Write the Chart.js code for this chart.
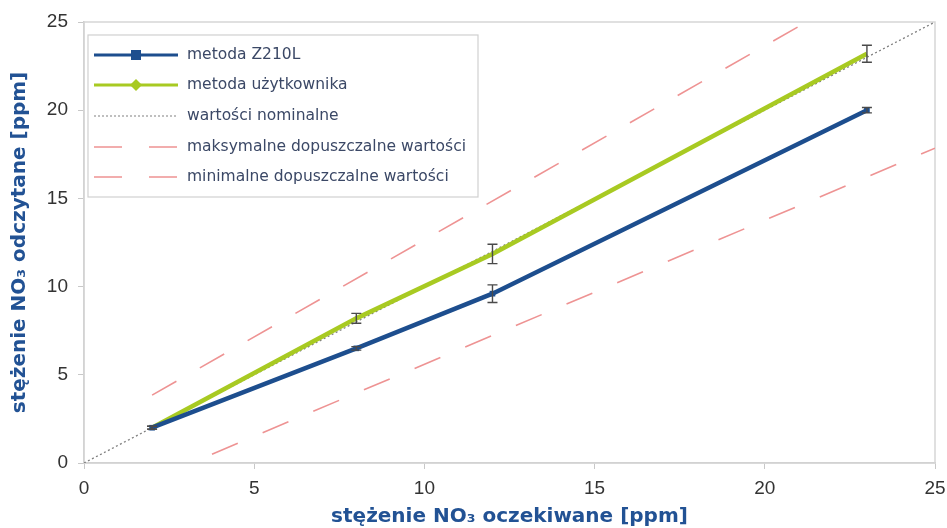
<!DOCTYPE html>
<html>
<head>
<meta charset="utf-8">
<script src="https://cdn.jsdelivr.net/npm/chart.js@4/dist/chart.umd.min.js"></script>
<style>
  body { margin: 0; background: #fff; }
  #wrap { width: 947px; height: 528px; position: relative; }
</style>
</head>
<body>
<div id="wrap"><canvas id="chart"></canvas></div>
<script>
// dane
var stezeniaOczekiwane = [2, 8, 12, 23];
var metodaZ210L = [2, 6.5, 9.6, 20];
var bledyZ210L = [0.08, 0.1, 0.5, 0.15];
var metodaUzytkownika = [2, 8.2, 11.85, 23.2];
var bledyUzytkownika = [0.08, 0.28, 0.55, 0.48];
var nominalneX = [0, 25];
var nominalneY = [0, 25];
var maxX = [2, 25];
var maxY = [3.85, 29.15];
var minX = [3.76, 25];
var minY = [0.5, 17.85];
var ticksOsi = [0, 5, 10, 15, 20, 25];

var legendaTeksty = ['metoda Z210L', 'metoda użytkownika', 'wartości nominalne',
  'maksymalne dopuszczalne wartości', 'minimalne dopuszczalne wartości'];

var niebieski = '#1d4e8e';
var zielony = '#a8ca22';
var czerwony = '#ee9393';
var szary = '#808080';
var tytulKolor = '#225294';

function punkty(xs, ys) {
  var out = [];
  for (var i = 0; i < xs.length; i++) out.push({x: xs[i], y: ys[i]});
  return out;
}

// ramka wokol obszaru wykresu
var ramka = {
  id: 'ramka',
  beforeDatasetsDraw: function(chart) {
    var a = chart.chartArea, ctx = chart.ctx;
    ctx.save();
    ctx.strokeStyle = '#d6d6d6';
    ctx.lineWidth = 1.5;
    ctx.strokeRect(a.left, a.top, a.right - a.left, a.bottom - a.top);
    ctx.restore();
  }
};

// slupki bledow
var slupkiBledow = {
  id: 'slupkiBledow',
  afterDatasetsDraw: function(chart) {
    var ctx = chart.ctx, sx = chart.scales.x, sy = chart.scales.y;
    var zestawy = [[metodaZ210L, bledyZ210L], [metodaUzytkownika, bledyUzytkownika]];
    ctx.save();
    ctx.strokeStyle = '#4a4a4a';
    ctx.lineWidth = 1.4;
    zestawy.forEach(function(z) {
      for (var i = 0; i < stezeniaOczekiwane.length; i++) {
        var px = sx.getPixelForValue(stezeniaOczekiwane[i]);
        var y1 = sy.getPixelForValue(z[0][i] - z[1][i]);
        var y2 = sy.getPixelForValue(z[0][i] + z[1][i]);
        ctx.beginPath();
        ctx.moveTo(px, y1); ctx.lineTo(px, y2);
        ctx.moveTo(px - 5, y1); ctx.lineTo(px + 5, y1);
        ctx.moveTo(px - 5, y2); ctx.lineTo(px + 5, y2);
        ctx.stroke();
      }
    });
    ctx.restore();
  }
};

// legenda rysowana recznie (linia + znacznik)
var legenda = {
  id: 'legenda',
  afterDraw: function(chart) {
    var ctx = chart.ctx;
    var bx = 88, by = 35, bw = 390, bh = 162;
    ctx.save();
    ctx.fillStyle = '#fff';
    ctx.fillRect(bx, by, bw, bh);
    ctx.strokeStyle = '#d0d0d0';
    ctx.lineWidth = 1.2;
    ctx.strokeRect(bx, by, bw, bh);
    var wiersze = [55, 85, 116, 147, 177];
    var x1 = 94, x2 = 178, xm = 136;
    for (var i = 0; i < wiersze.length; i++) {
      var y = wiersze[i];
      ctx.beginPath();
      ctx.setLineDash([]);
      if (i == 0) { ctx.strokeStyle = niebieski; ctx.lineWidth = 3; }
      if (i == 1) { ctx.strokeStyle = zielony; ctx.lineWidth = 3; }
      if (i == 2) { ctx.strokeStyle = szary; ctx.lineWidth = 1.2; ctx.setLineDash([2, 2]); }
      if (i >= 3) { ctx.strokeStyle = czerwony; ctx.lineWidth = 1.5; ctx.setLineDash([28, 27]); }
      ctx.moveTo(x1, y); ctx.lineTo(x2, y);
      ctx.stroke();
      ctx.setLineDash([]);
      if (i == 0) {
        ctx.fillStyle = niebieski;
        ctx.fillRect(xm - 5, y - 5, 10, 10);
      }
      if (i == 1) {
        ctx.fillStyle = zielony;
        ctx.beginPath();
        ctx.moveTo(xm, y - 6); ctx.lineTo(xm + 6, y); ctx.lineTo(xm, y + 6); ctx.lineTo(xm - 6, y);
        ctx.closePath(); ctx.fill();
      }
      ctx.fillStyle = '#3b4866';
      ctx.font = '15.5px "DejaVu Sans"';
      ctx.textBaseline = 'middle';
      ctx.fillText(legendaTeksty[i], 187, y);
    }
    ctx.restore();
  }
};

var ctx = document.getElementById('chart').getContext('2d');
var chart = new Chart(ctx, {
  type: 'scatter',
  data: {
    datasets: [{
      label: legendaTeksty[0],
      data: punkty(stezeniaOczekiwane, metodaZ210L),
      showLine: true,
      borderColor: niebieski,
      backgroundColor: niebieski,
      borderWidth: 4.5,
      pointStyle: 'rect',
      pointRadius: 4,
      pointBorderWidth: 0
    }, {
      label: legendaTeksty[1],
      data: punkty(stezeniaOczekiwane, metodaUzytkownika),
      showLine: true,
      borderColor: zielony,
      backgroundColor: zielony,
      borderWidth: 4.5,
      pointRadius: 0
    }, {
      label: legendaTeksty[2],
      data: punkty(nominalneX, nominalneY),
      showLine: true,
      borderColor: szary,
      borderWidth: 1.3,
      borderDash: [2, 2.5],
      pointRadius: 0
    }, {
      label: legendaTeksty[3],
      data: punkty(maxX, maxY),
      showLine: true,
      borderColor: czerwony,
      borderWidth: 1.6,
      borderDash: [28, 27],
      pointRadius: 0
    }, {
      label: legendaTeksty[4],
      data: punkty(minX, minY),
      showLine: true,
      borderColor: czerwony,
      borderWidth: 1.6,
      borderDash: [28, 27],
      pointRadius: 0
    }]
  },
  options: {
    responsive: true,
    maintainAspectRatio: false,
    animation: false,
    layout: { padding: { left: 0, right: 12, top: 22, bottom: 0 } },
    plugins: {
      legend: { display: false },
      tooltip: { enabled: false }
    },
    scales: {
      x: {
        type: 'linear',
        min: 0, max: 25,
        afterBuildTicks: function(s) { s.ticks = ticksOsi.map(function(v) { return {value: v}; }); },
        afterFit: function(s) { s.height = 65; s.paddingRight = 0; s.paddingLeft = 0; },
        grid: { drawOnChartArea: false, tickLength: 6, color: '#c8c8c8' },
        border: { color: '#c8c8c8', width: 1.5 },
        ticks: { color: '#333', font: { family: 'Liberation Sans', size: 19 }, padding: 8 },
        title: {
          display: true,
          text: 'stężenie NO₃ oczekiwane [ppm]',
          color: tytulKolor,
          font: { family: 'DejaVu Sans', size: 20, weight: 'bold' },
          padding: { top: 0, bottom: -1 }
        }
      },
      y: {
        type: 'linear',
        min: 0, max: 25,
        afterBuildTicks: function(s) { s.ticks = ticksOsi.map(function(v) { return {value: v}; }); },
        afterFit: function(s) { s.width = 84; },
        grid: { drawOnChartArea: false, tickLength: 6, color: '#c8c8c8' },
        border: { color: '#c8c8c8', width: 1.5 },
        ticks: { color: '#333', font: { family: 'Liberation Sans', size: 19 }, padding: 10 },
        title: {
          display: true,
          text: 'stężenie NO₃ odczytane [ppm]',
          color: tytulKolor,
          font: { family: 'DejaVu Sans', size: 20, weight: 'bold' },
          padding: { top: 8, bottom: 0 }
        }
      }
    }
  },
  plugins: [ramka, slupkiBledow, legenda]
});
</script>
</body>
</html>
